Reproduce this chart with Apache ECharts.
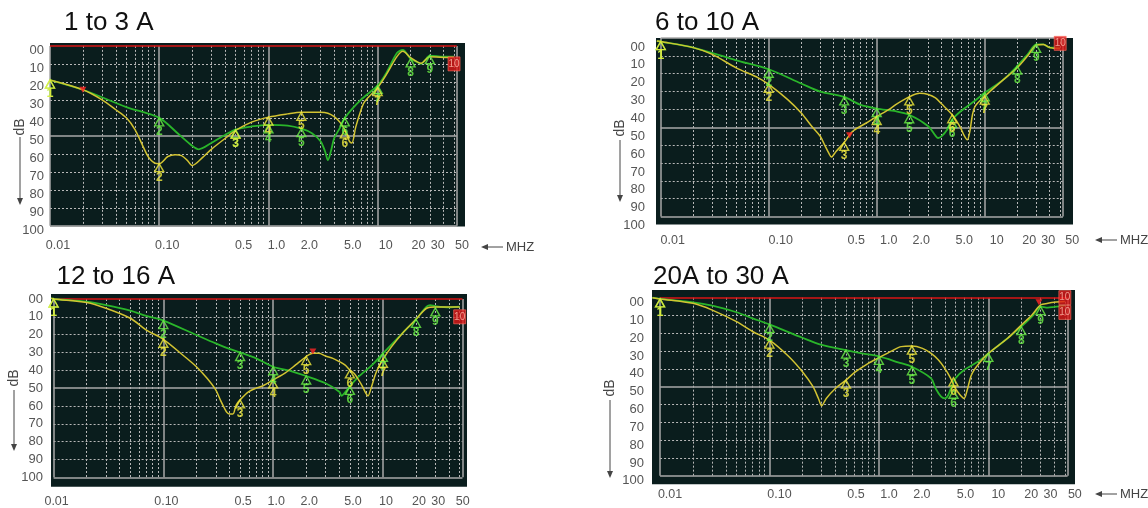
<!DOCTYPE html>
<html><head><meta charset="utf-8">
<script src="https://cdn.jsdelivr.net/npm/echarts@6/dist/echarts.min.js"></script>
<style>html,body{margin:0;padding:0;background:#fff;}#c{width:1148px;height:508px;}</style>
</head><body><div id="c"></div>
<script>
// ---------------- data ----------------
const xTickValues = [0.01, 0.1, 0.5, 1, 2, 5, 10, 20, 30, 50];
const xTickLabels = ['0.01', '0.10', '0.5', '1.0', '2.0', '5.0', '10', '20', '30', '50'];
const yTickValues = [0, 10, 20, 30, 40, 50, 60, 70, 80, 90, 100];
const yTickLabels = ['00', '10', '20', '30', '40', '50', '60', '70', '80', '90', '100'];
const panelTitles = ['1 to 3 A', '6 to 10 A', '12 to 16 A', '20A to 30 A'];

// panel 1: 1 to 3 A  [MHz, dB]
const tlGreen = [[0.01,19],[0.02,24.4],[0.05,34],[0.1,40],[0.15,49],[0.2,55.5],[0.23,57.5],[0.3,54],[0.4,49.5],[0.5,46.5],[0.7,44.8],[1,43.9],[1.5,44.3],[2,46],[2.5,48.5],[3,53],[3.3,58.7],[3.5,63.5],[3.75,58],[4,51.3],[4.5,45.7],[5,40],[7,30],[10,22],[12,15],[15,4],[17,2.2],[20,7.2],[23,9],[25,10],[28,6.9],[30,5.4],[40,6],[50,6]];
const tlYellow = [[0.01,19],[0.02,24.4],[0.03,30],[0.04,35.5],[0.05,40],[0.06,46.5],[0.07,55],[0.08,62],[0.09,65],[0.1,65.5],[0.12,61.5],[0.14,60.5],[0.16,61],[0.18,63.5],[0.2,66.5],[0.25,62],[0.3,57.5],[0.4,51.5],[0.5,47],[0.7,42.4],[1,39.6],[1.5,37.8],[2,36.9],[3,36.9],[3.5,37.4],[4,39.3],[4.5,42.4],[5,46.7],[5.5,53],[5.8,54],[6.3,45],[7,36],[7.6,31],[10,23.2],[12,16],[15,6],[17,3],[20,6.5],[25,9.6],[30,6],[40,6.5],[50,6.5]];
const tlGreenMarks = [[0.01,19,'1'],[0.1,40,'2'],[0.5,46.5,'3'],[1,43.9,'4'],[2,46,'5'],[5,40,'6'],[10,22,'7'],[20,7.2,'8'],[30,5.4,'9']];
const tlYellowMarks = [[0.01,19,'1'],[0.1,65.5,'2'],[0.5,47,'3'],[1,39.6,'4'],[2,36.9,'5'],[5,46.7,'6'],[10,23.2,'7']];
const tlBoxes = [[50,10,'10']];
const tlFlags = [[0.02,24.4]];

// panel 2: 6 to 10 A
const trGreen = [[0.0092,1.7],[0.01,2],[0.02,5.4],[0.05,12.5],[0.1,17.5],[0.2,25.5],[0.3,30],[0.5,33],[0.7,37.3],[1,39.5],[1.5,41],[2,43],[3,49.4],[3.5,54.7],[3.7,56],[4,55],[4.5,51.3],[5,45.7],[6,41],[8,35.4],[10,30.7],[15,23.2],[20,15.7],[25,9.2],[30,3.6],[35,3.6],[40,5.4],[50,5.4]];
const trYellow = [[0.0092,1.7],[0.01,2],[0.02,5.4],[0.03,9.2],[0.05,16.7],[0.08,22.3],[0.1,26],[0.15,34.5],[0.2,42],[0.25,49.4],[0.3,55],[0.33,60],[0.36,64.5],[0.38,66.7],[0.42,63.5],[0.5,58.5],[0.6,52.2],[0.8,47.6],[1,44],[1.3,40],[1.5,37.3],[2,33],[2.5,31],[3,31.6],[3.5,33.5],[4,37],[4.5,40],[5,43],[5.5,46.5],[6,50.5],[6.5,55],[6.9,57],[7.3,52],[7.7,43],[8.2,38],[10,32.6],[15,23.2],[20,16.7],[25,10],[30,4],[35,3.6],[40,5.4],[50,6]];
const trGreenMarks = [[0.01,2,'1'],[0.1,17.5,'2'],[0.5,33,'3'],[1,39.5,'4'],[2,43,'5'],[5,45.7,'6'],[10,30.7,'7'],[20,15.7,'8'],[30,3.6,'9']];
const trYellowMarks = [[0.01,2,'1'],[0.1,26,'2'],[0.5,58.5,'3'],[1,44,'4'],[2,33,'5'],[5,43,'6'],[10,32.6,'7']];
const trBoxes = [[50,3,'10']];
const trFlags = [[0.56,54.5]];

// panel 3: 12 to 16 A
const blGreen = [[0.0095,-0.5],[0.01,0],[0.02,1.5],[0.03,3.4],[0.05,6.5],[0.07,9.5],[0.1,12.1],[0.2,20.2],[0.3,24.9],[0.4,28],[0.5,30],[0.7,33.3],[1,38],[1.5,40.7],[2,43.2],[3,47.3],[4,52],[4.2,54.4],[4.5,52.5],[5,49],[6,43.6],[8,37],[10,30.5],[15,19.3],[20,11.4],[25,4.3],[27,3.4],[30,4],[40,4.7],[50,4.3]];
const blYellow = [[0.0095,-0.5],[0.01,0],[0.02,2],[0.03,5.2],[0.05,10.8],[0.07,17.4],[0.1,22.6],[0.15,31.4],[0.2,38],[0.25,44.5],[0.3,51],[0.33,56.6],[0.36,61.3],[0.38,63.7],[0.4,64.5],[0.43,64.5],[0.46,59.5],[0.5,56.6],[0.6,52],[0.7,50],[0.8,48.8],[1,45.4],[1.3,41.3],[1.6,37],[2,32.3],[2.3,30.5],[2.6,30.5],[3,32],[3.5,33.3],[4,35.1],[4.5,37],[5,39.8],[5.5,42],[6,45.4],[6.5,49],[7,53],[7.3,54.4],[7.8,50],[8.5,42.6],[9,38.9],[10,33.8],[12,26.7],[15,19.3],[20,11.4],[25,5.2],[30,4.5],[40,4.5],[50,4.5]];
const blGreenMarks = [[0.01,0,'1'],[0.1,12.1,'2'],[0.5,30,'3'],[1,38,'4'],[2,43.2,'5'],[5,49,'6'],[10,30.5,'7'],[20,11.4,'8'],[30,5,'9']];
const blYellowMarks = [[0.01,0,'1'],[0.1,22.6,'2'],[0.5,56.6,'3'],[1,45.4,'4'],[2,32.3,'5'],[5,39.8,'6'],[10,33.8,'7']];
const blBoxes = [[50,10,'10']];
const blFlags = [[2.3,29.5]];

// panel 4: 20A to 30 A
const brGreen = [[0.0085,0],[0.01,0.7],[0.02,2.6],[0.03,4.5],[0.05,8.2],[0.07,11.6],[0.1,15],[0.2,22.5],[0.3,26.5],[0.5,29.5],[0.7,31.3],[1,33],[1.5,36.3],[2,38.8],[3,45.3],[3.3,51],[3.7,55.6],[4,56.6],[4.3,54.7],[4.6,50],[5,45.3],[6,40.6],[8,36],[10,31.3],[15,22.8],[20,16.3],[25,10.7],[30,5],[35,5.6],[40,5.2],[50,4.5]];
const brYellow = [[0.0085,0],[0.01,0.7],[0.02,3.2],[0.03,7],[0.05,13.5],[0.07,19],[0.1,23.8],[0.15,33],[0.2,41.6],[0.25,50],[0.28,56.6],[0.3,60.7],[0.33,56.6],[0.4,51],[0.5,46.3],[0.6,42],[0.8,36.9],[1,33.7],[1.3,30],[1.6,27.5],[2,27.2],[2.5,28.5],[3,31.3],[3.5,35],[4,39.7],[4.5,45],[5,51],[5.5,54.5],[6,56.6],[6.4,52],[7,43.4],[8,37.8],[10,31.3],[15,22.8],[20,15.4],[25,9.7],[30,4.1],[35,3.2],[40,2.6],[50,2.2]];
const brGreenMarks = [[0.01,0.7,'1'],[0.1,15,'2'],[0.5,29.5,'3'],[1,33,'4'],[2,38.8,'5'],[4.8,52,'6'],[10,31.3,'7'],[20,16.3,'8'],[30,5,'9']];
const brYellowMarks = [[0.01,0.7,'1'],[0.1,23.8,'2'],[0.5,46.3,'3'],[2,27.2,'5'],[4.8,45,'6']];
const brBoxes = [[50,0,'10'],[50,8.3,'10']];
const brFlags = [[29,2.6]];

const panelData = [
  {green: tlGreen, yellow: tlYellow, gm: tlGreenMarks, ym: tlYellowMarks, boxes: tlBoxes, flags: tlFlags},
  {green: trGreen, yellow: trYellow, gm: trGreenMarks, ym: trYellowMarks, boxes: trBoxes, flags: trFlags},
  {green: blGreen, yellow: blYellow, gm: blGreenMarks, ym: blYellowMarks, boxes: blBoxes, flags: blFlags},
  {green: brGreen, yellow: brYellow, gm: brGreenMarks, ym: brYellowMarks, boxes: brBoxes, flags: brFlags}
];

// ---------------- layout & style ----------------
const layouts = [
  {grid:{left:50,top:43,width:415,height:183.5}, x:[0.01,63], y:[-1.6,100.4], topColor:'#d81414', yMargin:6, yShift:5, xMargin:13, xShift:8,
   title:{x:64,y:22.5}, dB:{x:20,y:127,l0:137,l1:199,tip:205}, mhz:{x:481,y:247}},
  {grid:{left:656,top:38,width:417,height:186.6}, x:[0.00904,65.7], y:[0,104.5], topColor:'#a8a8a8', yMargin:11, yShift:9, xMargin:9, xShift:12,
   title:{x:655,y:22.5}, dB:{x:620,y:128,l0:140,l1:196,tip:202}, mhz:{x:1095,y:240}},
  {grid:{left:51,top:294,width:416,height:192.7}, x:[0.00947,58.3], y:[-2.8,105.3], topColor:'#d81414', yMargin:8, yShift:0, xMargin:8, xShift:3,
   title:{x:56.5,y:277}, dB:{x:14,y:378,l0:390,l1:444,tip:451}, mhz:null},
  {grid:{left:652,top:290,width:423,height:194.3}, x:[0.00844,61.9], y:[-4.3,104.8], topColor:'#d81414', yMargin:8, yShift:5, xMargin:4, xShift:10,
   title:{x:653,y:277}, dB:{x:610,y:388,l0:400,l1:471,tip:478}, mhz:{x:1095,y:494}}
];
const FRAME_R = 53;
const BG = '#0a1d1d';
const GREEN = '#2ab52a', GREEN_MK = '#6cf046';
const YELLOW = '#d2c332', YELLOW_MK = '#f2ec3c';
const LABEL_FONT = '"Liberation Sans", Arial, sans-serif';
const TITLE_FONT = '"Liberation Sans", Arial, sans-serif';
const DOT = {color:'#b8b8b8', width:1, type:[2,2]};
const SOLID = {color:'#a8a8a8', width:1.5, type:'solid'};

function gridLines(topColor) {
  const out = [];
  const seg = (a, b, style) => out.push([{coord:a, lineStyle:style}, {coord:b}]);
  [0.01,0.1,1,10].forEach(d => [2,3,4,5,6,7,8,9].forEach(m => {
    const f = +(d*m).toPrecision(3);
    if (f <= 50) seg([f,0],[f,100], DOT);
  }));
  [10,20,30,40,60,70,80,90].forEach(v => seg([0.01,v],[FRAME_R,v], DOT));
  [0.01,0.1,1,10,FRAME_R].forEach(f => seg([f,0],[f,100], SOLID));
  [50,100].forEach(v => seg([0.01,v],[FRAME_R,v], SOLID));
  seg([0.01,0],[FRAME_R,0], {color:topColor, width:1.6, type:'solid'});
  return out;
}
function nearestIdx(arr, v, log) {
  let best = 0, bd = Infinity;
  arr.forEach((t,i) => { const d = log ? Math.abs(Math.log10(t) - Math.log10(v)) : Math.abs(t - v); if (d < bd) { bd = d; best = i; } });
  return best;
}
function marks(arr) { return arr.map(m => ({value:[m[0], m[1]], name:m[2] || ''})); }

const grids = [], xAxes = [], yAxes = [], series = [], graphics = [];
layouts.forEach((L, i) => {
  const D = panelData[i];
  grids.push(Object.assign({show:true, backgroundColor:BG, borderWidth:0, containLabel:false, outerBoundsMode:'none'}, L.grid));
  xAxes.push({type:'log', logBase:10, gridIndex:i, min:L.x[0], max:L.x[1],
    splitLine:{show:false}, minorSplitLine:{show:false}, minorTick:{show:false},
    axisLine:{show:false, onZero:false}, axisTick:{show:false},
    axisLabel:{customValues:xTickValues, formatter:v => xTickLabels[nearestIdx(xTickValues, v, true)],
      showMinLabel:true, showMaxLabel:true, hideOverlap:false,
      margin:L.xMargin, padding:[0,0,0,2*L.xShift], color:'#555', fontSize:12.5, fontFamily:LABEL_FONT}});
  const yLab = {customValues:yTickValues, formatter:v => yTickLabels[nearestIdx(yTickValues, v, false)],
      showMinLabel:true, showMaxLabel:true, hideOverlap:false,
      margin:L.yMargin, color:'#555', fontSize:13, fontFamily:LABEL_FONT};
  if (L.yShift > 0) { yLab.verticalAlign = 'top'; yLab.lineHeight = 2*L.yShift; }
  yAxes.push({type:'value', gridIndex:i, inverse:true, min:L.y[0], max:L.y[1],
    splitLine:{show:false}, axisLine:{show:false, onZero:false}, axisTick:{show:false}, axisLabel:yLab});
  const ax = {xAxisIndex:i, yAxisIndex:i, animation:false};
  series.push(Object.assign({type:'line', data:[], silent:true, z:1,
    markLine:{silent:true, symbol:['none','none'], label:{show:false}, z:1, animation:false, emphasis:{disabled:true}, data:gridLines(L.topColor)}}, ax));
  series.push(Object.assign({type:'line', data:D.green, showSymbol:false, smooth:0.3, silent:true, z:3,
    lineStyle:{color:GREEN, width:1.8}}, ax));
  series.push(Object.assign({type:'line', data:D.yellow, showSymbol:false, smooth:0.3, silent:true, z:3,
    lineStyle:{color:YELLOW, width:1.5}}, ax));
  const mk = (arr, col) => Object.assign({type:'scatter', data:marks(arr), silent:true, z:5,
    symbol:'triangle', symbolSize:[9,8], symbolOffset:[0,4],
    itemStyle:{color:'rgba(0,0,0,0)', borderColor:col, borderWidth:1.4},
    label:{show:true, formatter:'{b}', position:'bottom', distance:-1, color:col, fontSize:12, fontWeight:'bold', fontFamily:TITLE_FONT}}, ax);
  series.push(mk(D.gm, GREEN_MK));
  series.push(mk(D.ym, YELLOW_MK));
  series.push(Object.assign({type:'scatter', data:marks(D.boxes), silent:true, z:6, symbol:'rect', symbolSize:[12,14],
    itemStyle:{color:'#e01818', borderColor:'#ff6a5a', borderWidth:0.8},
    label:{show:true, formatter:'{b}', position:'inside', color:'#ffb8a8', fontSize:10, fontFamily:LABEL_FONT}}, ax));
  series.push(Object.assign({type:'scatter', data:D.flags, silent:true, z:6, symbol:'triangle', symbolRotate:180, symbolSize:[7,6],
    itemStyle:{color:'#ff2626'}}, ax));

  // decorations: title, dB arrow, MHZ arrow
  graphics.push({type:'text', x:L.title.x, y:L.title.y, silent:true,
    style:{text:panelTitles[i], font:'26px ' + TITLE_FONT, fill:'#111', align:'left', verticalAlign:'middle', textAlign:'left', textVerticalAlign:'middle'}});
  graphics.push({type:'text', x:L.dB.x, y:L.dB.y, rotation:Math.PI/2, silent:true,
    style:{text:'dB', font:'14px ' + LABEL_FONT, fill:'#444', align:'center', verticalAlign:'middle', textAlign:'center', textVerticalAlign:'middle'}});
  graphics.push({type:'line', silent:true, shape:{x1:L.dB.x, y1:L.dB.l0, x2:L.dB.x, y2:L.dB.l1}, style:{stroke:'#444', lineWidth:1}});
  graphics.push({type:'polygon', silent:true, shape:{points:[[L.dB.x-3,L.dB.tip-7],[L.dB.x+3,L.dB.tip-7],[L.dB.x,L.dB.tip]]}, style:{fill:'#444'}});
  if (L.mhz) {
    const m = L.mhz;
    graphics.push({type:'polygon', silent:true, shape:{points:[[m.x,m.y],[m.x+7,m.y-3],[m.x+7,m.y+3]]}, style:{fill:'#444'}});
    graphics.push({type:'line', silent:true, shape:{x1:m.x+6, y1:m.y, x2:m.x+22, y2:m.y}, style:{stroke:'#444', lineWidth:1}});
    graphics.push({type:'text', x:m.x+25, y:m.y, silent:true,
      style:{text:'MHZ', font:'13px ' + LABEL_FONT, fill:'#444', align:'left', verticalAlign:'middle', textAlign:'left', textVerticalAlign:'middle'}});
  }
});

const chart = echarts.init(document.getElementById('c'), null, {renderer:'canvas'});
chart.setOption({
  animation:false,
  backgroundColor:'#ffffff',
  grid:grids, xAxis:xAxes, yAxis:yAxes, series:series, graphic:graphics
});
</script>
</body></html>
